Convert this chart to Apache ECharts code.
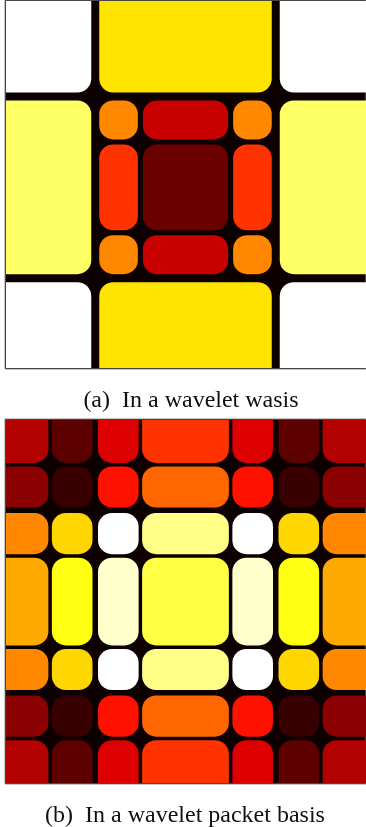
<!DOCTYPE html>
<html>
<head>
<meta charset="UTF-8">
<title></title>
<script src="https://cdn.jsdelivr.net/npm/echarts@6/dist/echarts.min.js"></script>
<style>
  html, body { margin: 0; padding: 0; background: #fff; }
  #main { width: 366px; height: 827px; }
</style>
</head>
<body>
<div id="main"></div>
<script type="text/javascript">
// 图(a)：小波基的分块 [x0, x1, y0, y1, 值]，坐标单位 0..64
var cellsA = [
    [0, 16, 0, 16, 1.0], [16, 48, 0, 16, 0.71], [48, 64, 0, 16, 1.0],
    [0, 16, 16, 48, 0.85], [48, 64, 16, 48, 0.85],
    [16, 24, 16, 24, 0.575], [24, 40, 16, 24, 0.295], [40, 48, 16, 24, 0.575],
    [16, 24, 24, 40, 0.45], [24, 40, 24, 40, 0.157], [40, 48, 24, 40, 0.45],
    [16, 24, 40, 48, 0.575], [24, 40, 40, 48, 0.295], [40, 48, 40, 48, 0.575],
    [0, 16, 48, 64, 1.0], [16, 48, 48, 64, 0.71], [48, 64, 48, 64, 1.0]
];

// 图(b)：小波包基，规则网格
var edgesB = [0, 8, 16, 24, 40, 48, 56, 64];
var valuesB = [
    [0.263, 0.135, 0.325, 0.45, 0.325, 0.135, 0.263],
    [0.204, 0.075, 0.40, 0.525, 0.40, 0.075, 0.204],
    [0.575, 0.691, 1.0, 0.883, 1.0, 0.691, 0.575],
    [0.625, 0.767, 0.95, 0.817, 0.95, 0.767, 0.625],
    [0.575, 0.691, 1.0, 0.883, 1.0, 0.691, 0.575],
    [0.204, 0.075, 0.40, 0.525, 0.40, 0.075, 0.204],
    [0.263, 0.135, 0.325, 0.45, 0.325, 0.135, 0.263]
];

var captions = ['(a)\u00a0\u00a0In a wavelet wasis', '(b)\u00a0\u00a0In a wavelet packet basis'];

// hot 色图
var hotColors = ['#0c0000', '#550000', '#aa0000', '#ff0000', '#ff5500', '#ffaa00', '#ffff00', '#ffff80', '#ffffff'];

var cellsB = [];
for (var r = 0; r < valuesB.length; r++) {
    for (var c = 0; c < valuesB[r].length; c++) {
        cellsB.push([edgesB[c], edgesB[c + 1], edgesB[r], edgesB[r + 1], valuesB[r][c]]);
    }
}

function makeRender(gapThick, gapThin, rad) {
    function half(e) {
        return (e === 16 || e === 48) ? gapThick / 2 : gapThin / 2;
    }
    return function (params, api) {
        var x0 = api.value(0), x1 = api.value(1), y0 = api.value(2), y1 = api.value(3);
        var cs = params.coordSys;
        var p0 = api.coord([x0, y0]);
        var p1 = api.coord([x1, y1]);
        var oL = x0 === 0, oR = x1 === 64, oT = y0 === 0, oB = y1 === 64;
        var left = oL ? cs.x + 1 : p0[0] + half(x0);
        var right = oR ? cs.x + cs.width : p1[0] - half(x1);
        var top = oT ? cs.y + 1 : p0[1] + half(y0);
        var bottom = oB ? cs.y + cs.height - 1 : p1[1] - half(y1);
        var w = right - left, h = bottom - top;
        var rr = Math.min(rad, Math.min(w, h) * 0.38);
        var corner = [
            (oL || oT) ? 0 : rr,
            (oR || oT) ? 0 : rr,
            (oR || oB) ? 0 : rr,
            (oL || oB) ? 0 : rr
        ];
        return {
            type: 'rect',
            shape: { x: left, y: top, width: w, height: h, r: corner },
            style: { fill: api.visual('color') }
        };
    };
}

var myChart = echarts.init(document.getElementById('main'));
var option = {
    animation: false,
    backgroundColor: '#ffffff',
    grid: [
        { left: 5, top: 0, width: 366, height: 369, show: true, backgroundColor: '#0c0000', borderColor: '#8a8a8a', borderWidth: 1 },
        { left: 5, top: 419, width: 366, height: 365, show: true, backgroundColor: '#0c0000', borderColor: '#8a8a8a', borderWidth: 1 }
    ],
    xAxis: [
        { type: 'value', gridIndex: 0, min: 0, max: 64, show: false },
        { type: 'value', gridIndex: 1, min: 0, max: 64, show: false }
    ],
    yAxis: [
        { type: 'value', gridIndex: 0, min: -1, max: 64, inverse: true, show: false },
        { type: 'value', gridIndex: 1, min: 0, max: 64, inverse: true, show: false }
    ],
    visualMap: {
        show: false,
        min: 0,
        max: 1,
        dimension: 4,
        seriesIndex: [0, 1],
        inRange: { color: hotColors }
    },
    series: [
        {
            type: 'custom',
            xAxisIndex: 0,
            yAxisIndex: 0,
            renderItem: makeRender(8, 5, 14),
            encode: { x: [0, 1], y: [2, 3] },
            data: cellsA
        },
        {
            type: 'custom',
            xAxisIndex: 1,
            yAxisIndex: 1,
            renderItem: makeRender(5.5, 3.5, 14),
            encode: { x: [0, 1], y: [2, 3] },
            data: cellsB
        }
    ],
    graphic: [
        {
            type: 'text', x: 191, y: 401,
            style: { text: captions[0], fill: '#111', font: '24px "Liberation Serif"', align: 'center', verticalAlign: 'middle' }
        },
        {
            type: 'text', x: 185, y: 816,
            style: { text: captions[1], fill: '#111', font: '24px "Liberation Serif"', align: 'center', verticalAlign: 'middle' }
        }
    ]
};
myChart.setOption(option);
</script>
</body>
</html>
